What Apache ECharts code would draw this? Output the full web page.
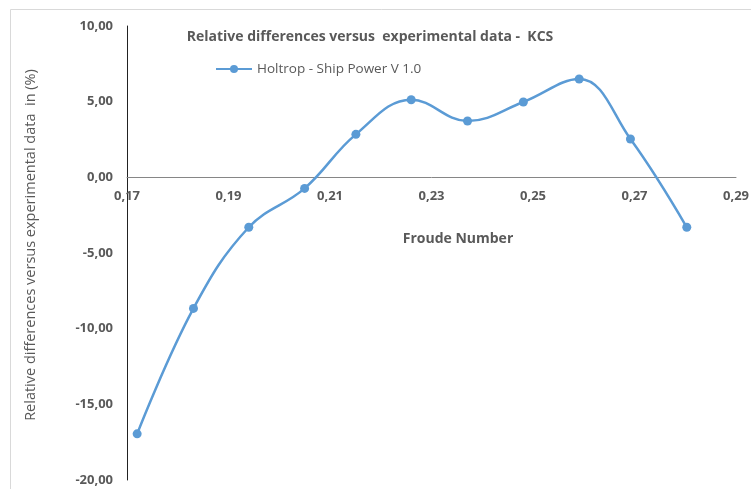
<!DOCTYPE html>
<html><head><meta charset="utf-8">
<script src="https://cdn.jsdelivr.net/npm/echarts@6/dist/echarts.min.js"></script>
<style>html,body{margin:0;padding:0;background:#fff}#c{width:751px;height:489px}</style>
</head><body><div id="c"></div>
<script>
const froude = [0.1720, 0.1831, 0.1940, 0.2050, 0.2151, 0.2260, 0.2371, 0.2481, 0.2591, 0.2692, 0.2803];
const relDiff = [-16.95, -8.66, -3.30, -0.73, 2.84, 5.13, 3.72, 4.98, 6.50, 2.53, -3.30];
const seriesName = 'Holtrop - Ship Power V 1.0';
const titleText = 'Relative differences versus  experimental data -  KCS';
const xTitle = 'Froude Number';
const yTitle = 'Relative differences versus experimental data  in (%)';

const fmt = v => v.toFixed(2).replace('.', ',');
const chart = echarts.init(document.getElementById('c'));
const FONT = 'Open Sans';
const GRID_TOP = 26, GRID_BOTTOM = 9, H = 489;
const Y_MIN = -20, Y_MAX = 10;
// distance from the grid bottom to the y = 0 level, so the x axis sits on zero
const zeroOffset = (H - GRID_TOP - GRID_BOTTOM) * (0 - Y_MIN) / (Y_MAX - Y_MIN);
chart.setOption({
  animation: false,
  textStyle: { fontFamily: FONT },
  title: { text: titleText, left: 365, top: 25, textAlign: 'center',
    textStyle: { fontSize: 14, fontWeight: 'bold', color: '#595959', fontFamily: FONT } },
  legend: { left: 210, top: 57, itemWidth: 36, itemHeight: 10, itemGap: 4,
    textStyle: { fontSize: 13.5, color: '#595959', fontFamily: FONT },
    data: [seriesName] },
  grid: { left: 127, right: 15, top: GRID_TOP, bottom: GRID_BOTTOM, containLabel: false, outerBoundsMode: 'none' },
  xAxis: { type: 'value', min: 0.17, max: 0.29, interval: 0.02, offset: -zeroOffset,
    axisLine: { onZero: false, lineStyle: { color: '#868686', width: 1 } },
    axisTick: { show: false }, splitLine: { show: false },
    axisLabel: { formatter: v => fmt(v), margin: 12, fontSize: 13, fontWeight: 'bold', color: '#595959', fontFamily: FONT } },
  yAxis: { type: 'value', min: Y_MIN, max: Y_MAX, interval: 5,
    axisLine: { show: true, onZero: false, lineStyle: { color: '#222', width: 1 } },
    axisTick: { show: false }, splitLine: { show: false },
    axisLabel: { formatter: v => fmt(v), margin: 14, fontSize: 13, fontWeight: 'bold', color: '#595959', fontFamily: FONT } },
  graphic: [
    { type: 'rect', shape: { x: 10.5, y: 9.5, width: 745, height: 490 }, style: { fill: 'none', stroke: '#d9d9d9', lineWidth: 1 }, silent: true },
    { type: 'text', x: 458, y: 239, style: { text: xTitle, textAlign: 'center', textVerticalAlign: 'middle', fontSize: 14, fontWeight: 'bold', fill: '#595959', fontFamily: FONT } },
    { type: 'text', rotation: Math.PI / 2, x: 31, y: 245, style: { text: yTitle, textAlign: 'center', textVerticalAlign: 'middle', fontSize: 14.5, fill: '#595959', fontFamily: FONT } }
  ],
  series: [{
    name: seriesName, type: 'line', smooth: 0.4,
    data: froude.map((f, i) => [f, relDiff[i]]),
    symbol: 'circle', symbolSize: 9,
    lineStyle: { color: '#5B9BD5', width: 2.5 },
    itemStyle: { color: '#5B9BD5' }
  }]
});
</script></body></html>
